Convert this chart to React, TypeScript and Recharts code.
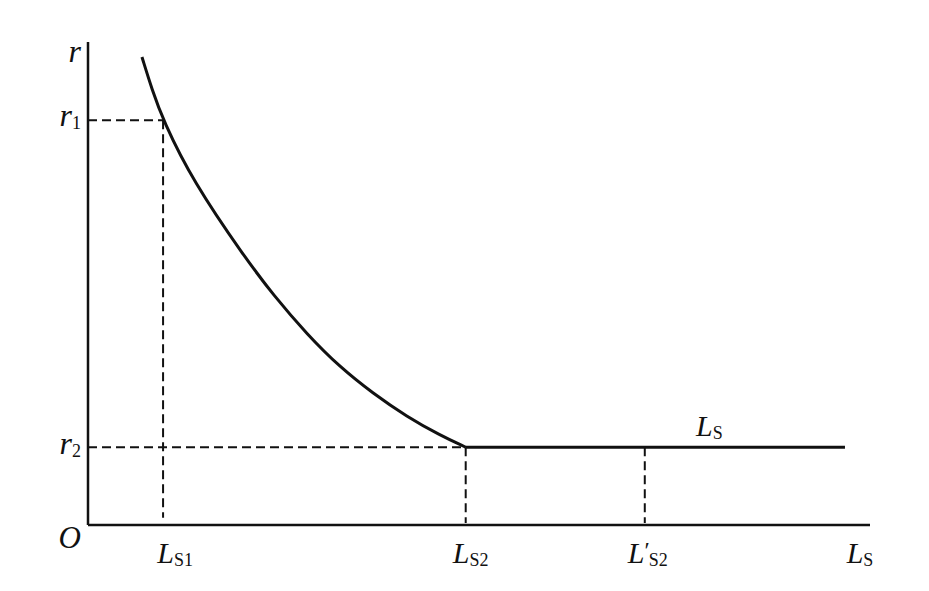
import React from "react";
import {
  ComposedChart,
  Line,
  XAxis,
  YAxis,
  ReferenceLine,
  ReferenceDot,
} from "recharts";

// key positions on the axes (data units, 0..100)
const LS1 = 9.6;
const LS2 = 48.3;
const LS2p = 71.2;
const LSmax = 100;
const R1 = 83.8;
const R2 = 16.1;
const RMAX = 100;

// decreasing branch of r(Ls)
const curveX = [6.9, 8.2, 9.6, 13.4, 20.1, 23.7, 28.0, 32.2, 36.4, 40.8, 45.0, 48.3];
const curveR = [96.9, 90.1, 83.8, 71.2, 55.3, 47.6, 39.5, 32.7, 27.3, 22.4, 18.6, 16.1];

// flat branch
const flatX = [48.3, 96.8];
const flatR = [16.1, 16.1];

const xTicks = [LS1, LS2, LS2p, LSmax];
const xTickLabels = ["L_S1", "L_S2", "L'_S2", "L_S"];
const yTicks = [R1, R2, 0, RMAX];
const yTickLabels = ["r_1", "r_2", "O", "r"];

const curveData = curveX.map((x, i) => ({ x, r: curveR[i] }));
const flatData = flatX.map((x, i) => ({ x, r: flatR[i] }));

const INK = "#111";
const SERIF = "'Liberation Serif', 'DejaVu Serif', serif";
const xNudge = [12, 5, 3, -10];
const yDy = [6, 7, 23, 20];

const MathLabel = ({ label, x, y, anchor, big, small }: any) => {
  const [headRaw, sub] = label.split("_");
  const prime = headRaw.endsWith("'");
  const head = prime ? headRaw.slice(0, -1) : headRaw;
  return (
    <text x={x} y={y} textAnchor={anchor} fill={INK} fontFamily={SERIF}>
      <tspan fontStyle="italic" fontSize={big}>
        {head}
      </tspan>
      {prime && (
        <tspan fontSize={small + 6} dx={0} dy={-5}>
          ′
        </tspan>
      )}
      {sub && (
        <tspan fontSize={small} dx={prime ? -1 : 0} dy={prime ? 8 : 3}>
          {sub}
        </tspan>
      )}
    </text>
  );
};

const XTick = (props: any) => {
  const { x, y, index } = props;
  return (
    <MathLabel
      label={xTickLabels[index]}
      x={x + xNudge[index]}
      y={y + 38}
      anchor="middle"
      big={30}
      small={18}
    />
  );
};

const YTick = (props: any) => {
  const { x, y, index } = props;
  const label = yTickLabels[index];
  return (
    <MathLabel
      label={label}
      x={x - 7}
      y={y + yDy[index]}
      anchor="end"
      big={label === "O" ? 31 : 32}
      small={18}
    />
  );
};

const dash = { stroke: INK, strokeWidth: 2, strokeDasharray: "9 5" };

export default function App() {
  return (
    <div style={{ position: "absolute", left: 0, top: 0, background: "#fff" }}>
      <ComposedChart
        width={929}
        height={591}
        margin={{ top: 42, right: 59, bottom: 26, left: 28 }}
      >
        <XAxis
          type="number"
          dataKey="x"
          domain={[0, LSmax]}
          ticks={xTicks}
          interval={0}
          height={40}
          tickSize={0}
          tickMargin={0}
          tickLine={false}
          axisLine={{ stroke: INK, strokeWidth: 2.5 }}
          tick={<XTick />}
          allowDataOverflow
        />
        <YAxis
          type="number"
          dataKey="r"
          domain={[0, RMAX]}
          ticks={yTicks}
          interval={0}
          width={60}
          tickSize={0}
          tickMargin={0}
          tickLine={false}
          axisLine={{ stroke: INK, strokeWidth: 2.5 }}
          tick={<YTick />}
          allowDataOverflow
        />
        <ReferenceLine segment={[{ x: 0, y: R1 }, { x: LS1, y: R1 }]} {...dash} />
        <ReferenceLine segment={[{ x: LS1, y: R1 }, { x: LS1, y: 1.5 }]} {...dash} />
        <ReferenceLine segment={[{ x: 0, y: R2 }, { x: LS2, y: R2 }]} {...dash} />
        <ReferenceLine segment={[{ x: LS2, y: R2 }, { x: LS2, y: 0.4 }]} {...dash} />
        <ReferenceLine segment={[{ x: LS2p, y: R2 }, { x: LS2p, y: 0.4 }]} {...dash} />
        <Line
          data={curveData}
          dataKey="r"
          type="basis"
          stroke={INK}
          strokeWidth={3}
          dot={false}
          isAnimationActive={false}
        />
        <Line
          data={flatData}
          dataKey="r"
          type="linear"
          stroke={INK}
          strokeWidth={3}
          dot={false}
          isAnimationActive={false}
        />
        <ReferenceDot
          x={78}
          y={R2}
          r={0}
          fill="none"
          stroke="none"
          label={{
            content: (p: any) => (
              <MathLabel
                label="L_S"
                x={p.viewBox.x - 2}
                y={p.viewBox.y - 11}
                anchor="start"
                big={30}
                small={18}
              />
            ),
          }}
        />
      </ComposedChart>
    </div>
  );
}
